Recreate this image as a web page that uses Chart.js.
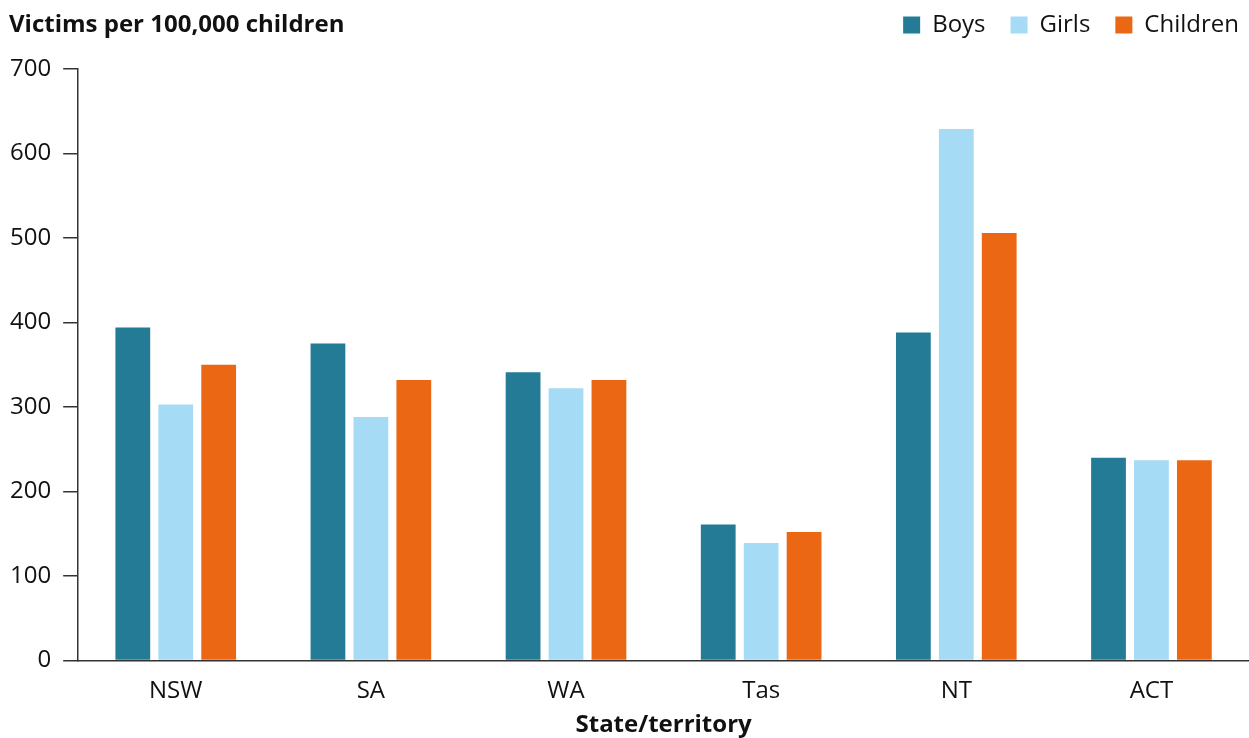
<!DOCTYPE html>
<html>
<head>
<meta charset="utf-8">
<script src="https://cdn.jsdelivr.net/npm/chart.js@4"></script>
<style>
  body { margin: 0; background: #fff; font-family: "Open Sans", sans-serif; }
  .wrap { position: relative; width: 1249px; height: 738px; }
  .ytitle { position: absolute; left: 9px; top: 6px; font-size: 24px; font-weight: 700; color: #111; }
</style>
</head>
<body>
<div class="wrap">
  <div class="ytitle">Victims per 100,000 children</div>
  <canvas id="myChart" width="1249" height="738"></canvas>
</div>
<script>
const states = ["NSW", "SA", "WA", "Tas", "NT", "ACT"];
const boys = [394, 375, 341, 161, 388, 240];
const girls = [303, 288, 322, 139, 629, 237];
const children = [350, 332, 332, 152, 506, 237];
const yTicks = [0, 100, 200, 300, 400, 500, 600, 700];

Chart.defaults.font.family = "'Open Sans', sans-serif";
Chart.defaults.color = "#111";

// legend sits a bit further right and leaves room above the plot
const legendTweak = {
  id: "legendTweak",
  beforeInit(chart) {
    const fit = chart.legend.fit;
    chart.legend.fit = function () {
      fit.bind(chart.legend)();
      this.height += 22;
    };
  },
  afterLayout(chart) {
    chart.legend.left += 15;
    chart.legend.right += 15;
  }
};

const ctx = document.getElementById("myChart").getContext("2d");
new Chart(ctx, {
  type: "bar",
  data: {
    labels: states,
    datasets: [
      { label: "Boys", data: boys, backgroundColor: "#247B96" },
      { label: "Girls", data: girls, backgroundColor: "#A5DBF4" },
      { label: "Children", data: children, backgroundColor: "#EB6714" }
    ]
  },
  options: {
    responsive: false,
    animation: false,
    layout: { padding: { left: -2, right: 0, top: -12, bottom: -2 } },
    datasets: { bar: { categoryPercentage: 0.66, barPercentage: 0.81 } },
    plugins: {
      title: { display: false },
      tooltip: { enabled: false },
      legend: {
        position: "top",
        align: "end",
        labels: {
          boxWidth: 17,
          boxHeight: 17,
          padding: 25,
          font: { size: 24 },
          color: "#111"
        }
      }
    },
    scales: {
      x: {
        grid: { display: false, drawTicks: false },
        border: { display: true, color: "#333", width: 1.5 },
        ticks: { font: { size: 24 }, color: "#111", padding: 16 },
        title: {
          display: true,
          text: "State/territory",
          font: { size: 24, weight: "bold" },
          color: "#111",
          padding: { top: -10, bottom: 0 }
        }
      },
      y: {
        min: 0,
        max: 700,
        afterBuildTicks: (axis) => { axis.ticks = yTicks.map(v => ({ value: v })); },
        grid: { display: true, drawOnChartArea: false, drawTicks: true, tickLength: 15, color: "#333", lineWidth: 1.5 },
        border: { display: true, color: "#333", width: 1.5 },
        ticks: { font: { size: 24 }, color: "#111", padding: 12 }
      }
    }
  },
  plugins: [legendTweak]
});
</script>
</body>
</html>
